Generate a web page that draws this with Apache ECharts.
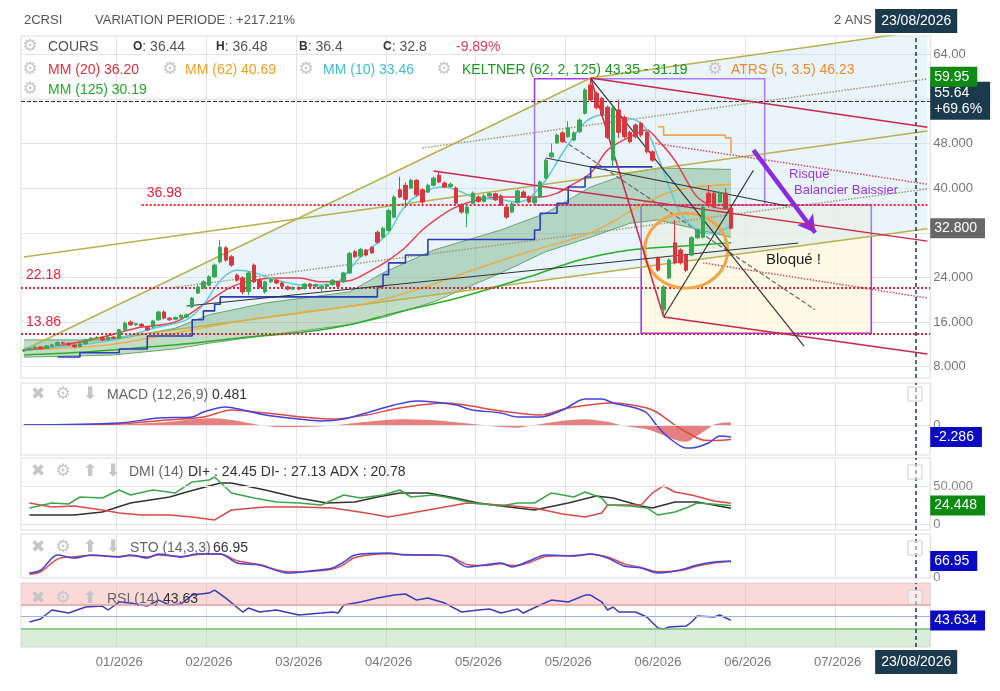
<!DOCTYPE html>
<html>
<head>
<meta charset="utf-8">
<script src="https://cdn.jsdelivr.net/npm/echarts@6/dist/echarts.min.js"></script>
<style>
html, body { margin: 0; padding: 0; background: #fff; }
#chart { width: 1000px; height: 691px; }
</style>
</head>
<body>
<div id="chart"></div>
<script>
// ---- data ----
var N = 162; // categories on the time axis
var tickIdx = [17, 33, 49, 65, 81, 97, 113, 129, 145];
var tickLabels = ['01/2026', '02/2026', '03/2026', '04/2026', '05/2026', '05/2026', '06/2026', '06/2026', '07/2026'];
var cursorIdx = 159;

// [open, close, low, high]
var candles = [
[10.8,11.0,10.6,11.2],[11.0,11.2,10.9,11.4],[11.2,11.5,11.1,11.7],[11.5,11.3,11.1,11.6],[11.3,11.7,11.2,11.9],
[11.7,11.9,11.5,12.1],[11.9,12.3,11.8,12.6],[12.3,12.2,12.0,12.5],[12.2,11.9,11.7,12.3],[11.9,11.6,11.4,12.0],
[11.6,12.1,11.5,12.3],[12.1,12.8,12.0,13.0],[12.8,13.1,12.6,13.3],[13.1,13.2,12.9,13.5],[13.2,12.8,12.6,13.4],
[12.8,13.3,12.7,13.5],[13.3,13.1,12.9,13.5],[13.1,14.6,13.0,14.8],[14.6,15.8,14.4,16.1],[16.0,15.5,15.3,16.3],
[15.5,15.7,15.3,15.9],[15.6,15.3,15.1,15.8],[15.0,14.6,14.4,15.2],[15.1,16.2,14.9,16.4],[16.4,17.8,16.2,18.0],
[17.8,16.7,16.5,18.1],[16.7,16.4,16.2,16.9],[16.5,16.8,16.3,17.0],[16.8,17.2,16.6,17.4],[16.9,17.3,16.7,17.5],
[18.7,20.3,18.5,20.5],[21.2,22.3,21.0,22.6],[22.1,23.2,21.9,23.5],[22.6,24.1,22.4,24.4],[24.1,26.2,23.9,26.5],
[26.8,29.4,26.5,30.7],[29.3,27.1,26.8,29.6],[27.7,26.2,25.9,28.0],[24.4,23.5,23.2,24.7],[23.9,21.4,21.0,24.2],
[21.5,24.8,20.8,25.1],[26.2,23.2,23.0,26.5],[23.5,22.3,22.0,23.8],[21.4,23.2,21.1,23.4],[23.2,23.6,23.0,23.9],
[23.5,23.0,22.8,23.7],[23.0,22.4,22.2,23.2],[22.3,21.9,21.7,22.5],[21.9,22.2,21.7,22.4],[22.2,21.9,21.7,22.4],
[22.0,22.8,21.8,23.0],[22.8,22.4,22.2,23.0],[22.4,22.7,22.2,22.9],[22.0,22.4,21.3,22.6],[22.4,22.7,22.2,22.9],
[22.7,23.5,22.5,23.7],[23.2,22.4,22.2,23.4],[23.2,24.8,23.0,25.0],[24.8,28.3,24.6,28.6],[28.6,27.7,27.5,28.9],
[27.8,29.0,27.6,29.3],[28.9,28.0,27.8,29.1],[29.4,28.4,28.2,29.6],[32.1,30.3,30.0,32.4],[31.2,32.8,31.0,33.1],
[32.4,36.0,32.2,36.3],[34.8,38.4,34.6,38.7],[39.7,38.4,38.2,42.0],[40.5,38.0,36.5,41.0],[40.0,41.4,39.8,41.7],
[41.4,38.8,38.5,41.6],[39.7,37.5,37.2,40.0],[39.3,40.5,39.1,40.8],[40.5,41.8,40.3,42.1],[42.3,41.1,40.9,43.0],
[40.9,40.2,40.0,41.2],[40.3,40.7,40.1,41.0],[40.0,37.3,37.0,40.3],[37.0,35.7,35.4,37.3],[35.5,36.6,33.0,36.9],
[37.3,39.1,37.1,39.4],[38.4,37.6,37.4,38.7],[37.6,38.6,37.4,38.9],[38.6,39.0,38.4,39.3],[39.0,37.9,37.7,39.2],
[38.6,37.0,36.8,38.9],[36.6,34.8,34.5,36.9],[35.7,37.2,35.5,37.5],[37.4,39.5,37.2,39.8],[39.3,38.4,38.2,39.6],
[38.4,37.5,37.3,38.7],[37.4,38.2,37.2,38.5],[38.4,41.1,38.2,41.4],[41.8,45.0,41.6,45.3],[45.6,46.3,45.4,48.0],
[48.1,49.5,47.9,49.8],[49.9,48.3,48.1,50.2],[49.2,50.8,49.0,52.0],[48.6,49.9,48.4,50.2],[50.1,52.2,49.9,52.5],
[53.4,57.6,53.2,57.9],[58.5,55.8,55.5,59.7],[57.0,54.4,54.1,57.3],[56.1,53.1,52.8,56.4],[54.5,49.1,48.8,54.8],
[45.0,54.3,43.7,54.6],[54.0,50.0,49.0,55.8],[52.7,49.2,48.9,53.0],[50.0,48.3,48.0,50.3],[51.3,49.2,48.9,51.6],
[51.6,49.5,49.2,51.9],[50.0,46.5,46.2,50.3],[46.5,45.0,44.7,46.8],[27.5,25.3,25.0,27.8],[18.2,22.3,16.9,22.6],
[23.9,27.1,23.7,27.4],[30.2,26.6,26.3,34.3],[28.9,26.6,26.3,29.2],[28.0,25.3,25.0,28.3],[28.0,31.1,27.8,31.4],
[31.1,32.5,30.9,32.8],[31.2,36.6,31.0,36.9],[39.1,37.3,36.5,40.5],[39.1,36.6,36.3,39.4],[37.5,39.1,37.3,39.4],
[39.1,36.4,36.1,40.0],[36.44,32.8,32.6,36.48]
];

// moving averages [index, value]
var mm10 = [[0,11.35],[10,11.9],[17,13.1],[24,15.1],[29,16.4],[32,19.1],[34,22.1],[36,24.4],[38,25.3],[41,24.9],[45,23.5],[50,22.6],[55,22.8],[60,27.7],[65,32.0],[67,35.5],[69,37.9],[71,39.1],[73,40.0],[75,40.2],[78,39.3],[80,38.4],[85,37.9],[88,37.5],[90,38.2],[93,41.4],[96,46.3],[100,51.8],[103,53.1],[106,52.7],[109,52.2],[111,50.4],[113,45.6],[115,40.2],[117,35.5],[120,32.5],[123,31.8],[126,33.46]];
var mm20 = [[0,11.0],[5,11.5],[14,13.3],[20,14.9],[27,16.0],[32,19.1],[37,22.3],[41,23.5],[45,23.9],[49,23.9],[53,23.2],[58,23.4],[62,25.3],[65,27.1],[68,29.4],[71,32.5],[74,34.8],[76,36.1],[78,37.0],[81,37.9],[85,38.4],[88,38.4],[92,38.4],[95,39.1],[97,40.2],[101,42.7],[104,46.8],[108,49.2],[111,50.4],[113,48.6],[116,45.0],[118,41.5],[120,38.4],[123,36.6],[126,36.2]];
var mm62 = [[0,11.0],[15,11.9],[30,14.6],[40,16.4],[50,17.8],[60,19.1],[70,21.8],[80,25.3],[90,28.6],[100,31.6],[105,34.0],[110,37.0],[115,39.3],[120,40.2],[126,40.69]];
var mm125 = [[0,10.1],[10,10.6],[20,11.35],[30,12.2],[40,13.3],[50,14.2],[58,15.5],[66,17.6],[78,20.5],[90,24.1],[99,27.1],[108,28.9],[117,29.6],[126,30.19]];
var keltUp = [[0,12.8],[16,12.8],[27,14.9],[33,17.3],[43,19.4],[58,21.4],[64,24.8],[73,28.9],[85,32.5],[93,35.5],[101,40.2],[108,42.7],[113,43.6],[126,43.35]];
var keltLow = [[0,9.7],[16,10.1],[27,11.2],[33,12.2],[43,13.6],[58,15.5],[64,16.8],[73,19.6],[85,24.8],[93,28.6],[101,31.2],[108,33.7],[113,34.3],[126,31.19]];
var atrsBull = [[6,9.73],[10,10.5],[17,11.17],[22,13.5],[30,16.4],[32,18.0],[34,19.2],[35,20.5],[63,22.3],[64,24.5],[65,26.6],[68,28.0],[72,30.8],[91,32.5],[92,35.5],[95,37.3],[97,40.2],[100,42.0],[101,43.8],[112,43.8]];
var atrsBear = [[113,51.0],[114,49.5],[125,49.0],[126,46.23]];

// hand drawn lines [[i1,v1],[i2,v2]]
var olive = [[[0,10.99],[101,59.73]], [[101,59.73],[156,67.6]], [[0,27.66],[161,50.25]], [[0,10.99],[161,32.7]]];
var oliveDot = [[[71,47.19],[161,59.57]], [[26,22.1],[161,39.85]]];
var redLines = [[[73,43.07],[161,30.5]], [[101,59.73],[161,50.9]], [[101,59.73],[114,16.9]], [[114,16.9],[161,10.25]]];
var redDot = [[[112,48.07],[161,40.7]], [[121,26.6],[161,20.3]]];
var blackLines = [[[29,18.87],[138,30.16]], [[93,45.4],[136,36.8]], [[101,59.73],[139,11.7]], [[114,16.9],[130,43.2]]];
var greyDash = [[[96,48.6],[141,18.2]]];
var fan = [[0,10.99],[101,59.73],[156,67.6],[161,67.6],[161,32.7]];
var boxTop = [[91,59.6],[132,36.98]];
var boxLow = [[110,36.98],[151,14.0]];
var levels = [36.98, 22.18, 13.86];

// indicators
var macd = [[0,0],[17,0.38],[24,1.33],[30,1.52],[32,2.48],[36,3.43],[39,2.86],[43,1.9],[49,1.14],[53,0.76],[57,1.14],[61,2.29],[66,3.81],[70,4.57],[73,4.38],[77,3.81],[80,2.86],[85,2.29],[88,1.52],[92,1.52],[96,2.86],[100,4.95],[103,4.95],[105,4.19],[109,3.24],[111,2.29],[113,-0.38],[115,-2.48],[118,-4.38],[119,-4.38],[122,-3.43],[124,-2.1],[126,-2.286]];
var macdSignal = [[0,0],[17,0.2],[24,0.8],[32,1.52],[37,2.86],[43,2.29],[55,1.14],[61,1.9],[67,3.24],[75,4.19],[85,2.67],[92,1.9],[97,3.24],[105,4.19],[111,3.24],[113,2.29],[116,0],[119,-1.9],[121,-2.86],[123,-2.95],[126,-2.77]];
var macdHist = [[0,0],[17,0.1],[26,0.6],[30,1.1],[34,1.3],[38,0.8],[42,0],[46,-0.4],[52,-0.3],[56,0],[62,0.7],[67,1.1],[73,0.9],[80,0.2],[84,-0.3],[88,-0.5],[91,0],[96,0.8],[100,1.1],[104,0.6],[107,-0.2],[111,-0.8],[113,-1.5],[116,-2.8],[118,-3.2],[120,-2.0],[122,-0.6],[123,0.1],[125,0.5],[126,0.481]];
var diPlus = [[1,21.1],[5,27.6],[8,26.3],[10,35.5],[14,34.2],[17,44.7],[19,38.2],[23,44.7],[27,40.8],[30,55.3],[33,57.9],[34,61.8],[37,40.8],[41,34.2],[45,28.9],[49,27.6],[53,25.0],[57,38.2],[60,34.2],[64,38.2],[67,44.7],[69,35.5],[73,38.2],[76,34.2],[80,27.6],[85,23.7],[88,27.6],[91,27.6],[94,40.8],[96,38.2],[98,35.5],[100,42.1],[103,34.2],[104,25.0],[108,23.7],[111,21.1],[113,11.8],[116,15.8],[118,21.1],[120,27.6],[126,24.45]];
var diMinus = [[1,27.6],[5,22.4],[9,23.7],[14,18.4],[17,14.5],[21,11.8],[26,11.8],[30,9.2],[34,5.3],[37,18.4],[43,22.4],[49,22.4],[55,21.1],[61,14.5],[65,9.2],[70,15.8],[74,21.1],[79,27.6],[85,25.0],[91,21.1],[96,13.2],[100,9.2],[103,14.5],[104,25.0],[110,25.0],[112,40.8],[114,50.0],[116,42.1],[119,38.2],[123,30.3],[126,27.13]];
var adx = [[1,11.8],[9,11.8],[14,15.8],[19,27.6],[26,35.5],[29,42.1],[35,53.9],[37,53.9],[43,44.7],[49,34.2],[54,27.6],[59,28.9],[63,35.5],[67,40.8],[72,40.8],[76,35.5],[81,27.6],[85,23.7],[91,18.4],[97,27.6],[102,36.8],[105,34.2],[110,23.7],[112,21.1],[116,28.9],[120,28.9],[126,20.78]];
var stoK = [[1,16.7],[3,29],[6,92],[9,79.5],[12,92],[17,83.7],[19,92],[22,79.5],[24,96],[28,83.7],[31,96],[35,96],[38,58.6],[42,50.2],[47,16.7],[51,25.1],[55,37.7],[57,62.8],[59,92],[65,100],[68,92],[73,92],[76,83.7],[79,41.8],[82,50.2],[85,58.6],[87,41.8],[90,66.9],[93,92],[98,87.9],[101,96],[104,79.5],[107,46],[110,37.7],[113,16.7],[117,29.3],[120,50.2],[123,62.8],[126,66.95]];
var stoD = [[1,12],[3,22],[6,75],[9,85],[12,90],[17,86],[19,89],[22,84],[24,92],[28,86],[31,94],[35,96],[38,68],[42,52],[47,22],[51,23],[55,33],[57,52],[59,82],[65,97],[68,94],[73,92],[76,86],[79,52],[82,48],[85,55],[87,48],[90,60],[93,86],[98,90],[101,95],[104,84],[107,55],[110,40],[113,22],[117,27],[120,46],[123,59],[126,65]];
var rsi = [[1,41.0],[3,45.9],[5,60.7],[8,55.7],[11,65.6],[14,67.2],[15,60.7],[17,73.8],[19,72.1],[22,67.2],[24,77.0],[26,68.9],[28,70.5],[30,85.2],[33,88.5],[34,93.4],[36,80.3],[39,57.4],[40,63.9],[42,57.4],[45,60.7],[49,52.5],[53,55.7],[55,57.4],[56,55.7],[57,68.9],[60,73.8],[63,80.3],[66,85.2],[68,86.9],[70,77.0],[72,80.3],[75,72.1],[78,57.4],[81,60.7],[83,62.3],[85,55.7],[88,62.3],[89,55.7],[92,68.9],[94,77.0],[97,73.8],[100,85.2],[101,85.2],[103,73.8],[104,60.7],[105,65.6],[106,57.4],[109,57.4],[111,49.2],[113,31.1],[114,29.5],[115,32.8],[118,34.4],[119,41.0],[120,50.8],[123,49.2],[124,52.5],[126,43.63]];

// ---- chart ----
var chart = echarts.init(document.getElementById('chart'));

var cats = [];
for (var i = 0; i < N; i++) cats.push('');
tickIdx.forEach(function (k, j) { cats[k] = tickLabels[j]; });
function onTick(idx) { return tickIdx.indexOf(idx) >= 0; }

var FONT = '"Liberation Sans", Arial, sans-serif';
var NAVY = '#1b3a4e';
var LEFT = 21, RIGHT = 1000 - (21 + N * 5.6125);
var panels = [[36, 342], [383, 72], [458, 72], [534, 44], [583, 64]];
var yRange = [[5.97, 67.26], [-5.71, 8.0], [-7.9, 86.8], [-4.2, 180], [0, 105]];
var HIDDEN = { color: 'rgba(0,0,0,0)', width: 0 };

var grids = panels.map(function (p) {
    return { left: LEFT, right: RIGHT, top: p[0], height: p[1], show: true, borderColor: '#dcdcdc', borderWidth: 1, backgroundColor: 'transparent' };
});
var xAxes = panels.map(function (p, g) {
    return {
        type: 'category', gridIndex: g, data: cats, boundaryGap: true,
        axisLine: { show: false }, axisTick: { show: false },
        axisLabel: { show: g === 4, interval: onTick, color: '#777', fontSize: 13, margin: 9, fontFamily: FONT },
        splitLine: { show: true, interval: onTick, lineStyle: { color: '#e4e4e4' } }
    };
});
var yAxes = yRange.map(function (r, g) {
    return {
        type: 'value', gridIndex: g, position: 'right', min: r[0], max: r[1],
        axisLine: { show: false }, axisTick: { show: false },
        axisLabel: { show: false }, splitLine: { show: false }
    };
});
yAxes[0].axisTick = { show: false, customValues: [8, 16, 24, 32, 40, 48, 56, 64] };
yAxes[0].axisLabel = {
    show: true, customValues: [8, 16, 24, 40, 48, 64], color: '#777', fontSize: 13, margin: 3, fontFamily: FONT,
    padding: [0, 0, 6, 0],
    formatter: function (v) { return v === 64 ? '64.00' : v.toFixed(3); }
};
yAxes[0].splitLine = { show: true, lineStyle: { color: '#e4e4e4' } };

function line(g, data, color, width, type, z, extra) {
    return Object.assign({
        type: 'line', xAxisIndex: g, yAxisIndex: g, data: data, symbol: 'none', silent: true, z: z || 3,
        lineStyle: { color: color, width: width, type: type || 'solid' }, itemStyle: { color: color }
    }, extra || {});
}
function poly(pts, fill, z, extra) {
    return Object.assign({
        type: 'custom', xAxisIndex: 0, yAxisIndex: 0, z: z, silent: true, clip: true, data: [[0, 0]],
        renderItem: function (params, api) {
            return { type: 'polygon', shape: { points: pts.map(function (p) { return api.coord(p); }) }, style: { fill: fill } };
        }
    }, extra || {});
}
function badge(v, text, bg, extra) {
    return {
        yAxis: v, lineStyle: extra && extra.lineStyle ? extra.lineStyle : HIDDEN,
        label: Object.assign({
            show: true, position: 'end', formatter: text, color: '#fff', backgroundColor: bg,
            padding: [3, 8, 3, 4], fontSize: 14, distance: 0, fontFamily: FONT
        }, extra && extra.label ? extra.label : {})
    };
}
function axisNote(v, text, lineColor) {
    return {
        yAxis: v, lineStyle: lineColor ? { color: lineColor, width: 1, type: 'solid' } : HIDDEN,
        label: { show: true, position: 'end', formatter: text, color: '#888', fontSize: 13, distance: 3, fontFamily: FONT, padding: [0, 0, 5, 0] }
    };
}
function cursor(labelPos) {
    var item = { xAxis: cursorIdx, lineStyle: { color: NAVY, type: [4, 3], width: 1.5 }, label: { show: false } };
    if (labelPos) {
        item.label = {
            show: true, position: labelPos, formatter: '23/08/2026', color: '#fff', backgroundColor: NAVY,
            padding: [5, 6], fontSize: 14, distance: 3, fontFamily: FONT
        };
    }
    return item;
}

var series = [];

// background fan + boxes fill
series.push(poly(fan, 'rgba(200,225,245,0.38)', 1, {
    markArea: {
        silent: true,
        data: [[{ coord: boxLow[0], itemStyle: { color: 'rgba(253,248,220,0.75)' } }, { coord: boxLow[1] }]]
    }
}));
// keltner band
series.push(poly(keltUp.concat(keltLow.slice().reverse()), 'rgba(70,150,85,0.33)', 2));
series.push(line(0, keltUp, '#6aa56a', 1, 'solid', 2));
series.push(line(0, keltLow, '#6aa56a', 1, 'solid', 2));

// hand drawn lines
olive.forEach(function (d) { series.push(line(0, d, '#b9b14c', 1.5, 'solid', 3)); });
oliveDot.forEach(function (d) { series.push(line(0, d, '#9d9b70', 1.5, 'dotted', 3)); });
redDot.forEach(function (d) { series.push(line(0, d, '#d34a62', 1.5, 'dotted', 3)); });
greyDash.forEach(function (d) { series.push(line(0, d, '#666', 1.2, 'dashed', 3)); });

// averages
series.push(line(0, mm125, '#27b027', 1.5, 'solid', 4, { smooth: 0.3 }));
series.push(line(0, mm62, '#f2a93b', 1.3, 'solid', 4, { smooth: 0.3 }));
series.push(line(0, mm20, '#e8424f', 1.5, 'solid', 4, { smooth: 0.3 }));
series.push(line(0, mm10, '#5ccbe0', 1.5, 'solid', 4, { smooth: 0.3 }));
series.push(line(0, atrsBull, '#2c3cb8', 1.6, 'solid', 4, { step: 'end' }));
series.push(line(0, atrsBear, '#f5a445', 1.6, 'solid', 4, { step: 'end' }));

redLines.forEach(function (d) { series.push(line(0, d, '#c9284a', 1.5, 'solid', 5)); });
blackLines.forEach(function (d) { series.push(line(0, d, '#333', 1.2, 'solid', 5)); });

// candles + annotations
var mainMarks = [
    { yAxis: levels[1], lineStyle: { color: '#e8213a', type: 'dotted', width: 2 },
      label: { show: true, position: 'insideStartTop', formatter: '22.18', color: '#e8213a', fontSize: 14, fontFamily: FONT } },
    { yAxis: levels[2], lineStyle: { color: '#e8213a', type: 'dotted', width: 2 },
      label: { show: true, position: 'insideStartTop', formatter: '13.86', color: '#e8213a', fontSize: 14, fontFamily: FONT } },
    [{ coord: [21, levels[0]], lineStyle: { color: '#e8213a', type: 'dotted', width: 2 },
       label: { show: true, position: 'insideStartTop', formatter: '36.98', color: '#e8213a', fontSize: 14, fontFamily: FONT } },
     { coord: [161, levels[0]] }],
    badge(55.64, '55.64\n+69.6%', NAVY, { lineStyle: { color: '#333', type: 'dashed', width: 1 }, label: { lineHeight: 16 } }),
    badge(59.95, '59.95', '#0c8a12'),
    badge(32.8, '32.800', '#676767'),
    cursor('end'),
    [{ coord: [130, 46.8], symbol: 'none', lineStyle: { color: '#8a2be2', width: 4.5, type: 'solid' }, label: { show: false } },
     { coord: [141, 32.0], symbol: 'arrow', symbolSize: [15, 17] }]
];
series.push({
    type: 'candlestick', name: 'COURS', xAxisIndex: 0, yAxisIndex: 0, data: candles, barWidth: 4, z: 6, silent: true,
    itemStyle: { color: '#35a853', color0: '#d9363e', borderColor: '#35a853', borderColor0: '#d9363e', borderWidth: 1 },
    markLine: { silent: true, symbol: ['none', 'none'], data: mainMarks },
    markArea: {
        silent: true,
        itemStyle: { color: 'rgba(0,0,0,0)', borderColor: '#9d3cf0', borderWidth: 1.6 },
        data: [[{ coord: boxTop[0] }, { coord: boxTop[1] }], [{ coord: boxLow[0] }, { coord: boxLow[1] }]]
    },
    markPoint: {
        silent: true,
        data: [{ coord: [117.5, 28.8], symbol: 'path://M50,0A50,50,0,1,1,50,100A50,50,0,1,1,50,0Z', symbolSize: [83, 75],
                 itemStyle: { color: 'rgba(0,0,0,0)', borderColor: '#f5a445', borderWidth: 3 }, label: { show: false } }]
    }
});

// MACD
series.push(line(1, macdHist, '#e06060', 0, 'solid', 2, { smooth: 0.3, areaStyle: { color: '#e27272', opacity: 0.9 } }));
series.push(line(1, macdSignal, '#e04848', 1.5, 'solid', 3, { smooth: 0.3 }));
series.push(line(1, macd, '#4242e0', 1.5, 'solid', 4, {
    smooth: 0.3,
    markLine: { silent: true, symbol: ['none', 'none'], data: [axisNote(0, '0', '#e4e4e4'), badge(-2.286, '-2.286', '#0a0ac4'), cursor()] }
}));

// DMI
series.push(line(2, adx, '#333', 1.5, 'solid', 3));
series.push(line(2, diMinus, '#e04848', 1.5, 'solid', 3));
series.push(line(2, diPlus, '#3aa84a', 1.5, 'solid', 3, {
    markLine: { silent: true, symbol: ['none', 'none'], data: [axisNote(50, '50.000', '#e4e4e4'), axisNote(0, '0', '#e4e4e4'), badge(24.448, '24.448', '#0c8a12'), cursor()] }
}));

// STO
series.push(line(3, stoD, '#e04848', 1.5, 'solid', 3, { smooth: 0.3 }));
series.push(line(3, stoK, '#4242e0', 1.5, 'solid', 4, {
    smooth: 0.3,
    markLine: { silent: true, symbol: ['none', 'none'], data: [axisNote(0, '0'), badge(66.95, '66.95', '#0a0ac4'), cursor()] }
}));

// RSI
series.push(line(4, rsi, '#3a3ac0', 1.5, 'solid', 4, {
    markArea: {
        silent: true,
        data: [[{ yAxis: 70, itemStyle: { color: 'rgba(245,170,170,0.45)' } }, { yAxis: 105 }],
               [{ yAxis: 0, itemStyle: { color: 'rgba(170,215,170,0.45)' } }, { yAxis: 30 }]]
    },
    markLine: {
        silent: true, symbol: ['none', 'none'],
        data: [
            { yAxis: 70, lineStyle: { color: '#e59a9a', width: 1.5, type: 'solid' }, label: { show: false } },
            { yAxis: 50, lineStyle: { color: '#9db4ea', width: 1.2, type: 'solid' }, label: { show: false } },
            { yAxis: 30, lineStyle: { color: '#78bd78', width: 1.5, type: 'solid' }, label: { show: false } },
            badge(43.634, '43.634', '#0a0ac4'),
            cursor('start')
        ]
    }
}));

// ---- texts and small decorations ----
var G = [];
function T(x, y, s, fill, size, extra) {
    G.push({ type: 'text', x: x, y: y, z: 100, silent: true,
        style: Object.assign({ text: s, fill: fill, font: (size || 14) + 'px ' + FONT, align: 'left', verticalAlign: 'middle' }, extra || {}) });
}
function icon(x, y, ch) {
    G.push({ type: 'text', x: x, y: y, z: 100, silent: true,
        style: { text: ch, fill: '#c6c6c6', font: 'bold 17px "DejaVu Sans"', align: 'center', verticalAlign: 'middle' } });
}
function ohlc(x, y, k, v) {
    T(x, y, '{b|' + k + '}: ' + v, '#555', 14, { rich: { b: { fontWeight: 'bold', fill: '#333', font: 'bold 14px ' + FONT } } });
}
T(24, 20, '2CRSI', '#555', 13);
T(95, 20, 'VARIATION PERIODE : +217.21%', '#555', 13);
T(834, 20, '2 ANS', '#555', 13);

icon(30, 47, '\u2699'); T(48, 47, 'COURS', '#555');
ohlc(133, 47, 'O', '36.44'); ohlc(216, 47, 'H', '36.48'); ohlc(299, 47, 'B', '36.4'); ohlc(383, 47, 'C', '32.8');
T(456, 47, '-9.89%', '#e53958');
icon(30, 70, '\u2699'); T(48, 70, 'MM (20) 36.20', '#e5303a');
icon(170, 70, '\u2699'); T(185, 70, 'MM (62) 40.69', '#f3a01f');
icon(306, 70, '\u2699'); T(323, 70, 'MM (10) 33.46', '#3dbfd4');
icon(444, 70, '\u2699'); T(462, 70, 'KELTNER (62, 2, 125) 43.35 - 31.19', '#169a1e');
icon(715, 70, '\u2699'); T(731, 70, 'ATRS (5, 3.5) 46.23', '#f08a24');
icon(30, 90, '\u2699'); T(48, 90, 'MM (125) 30.19', '#1faa2a');

icon(38, 395, '\u2716'); icon(63, 395, '\u2699'); icon(90, 395, '\u2B07');
T(107, 395, 'MACD (12,26,9)', '#666'); T(212, 395, '0.481', '#333');
icon(38, 472, '\u2716'); icon(63, 472, '\u2699'); icon(90, 472, '\u2B06'); icon(113, 472, '\u2B07');
T(129, 472, 'DMI (14)', '#666'); T(188, 472, 'DI+ : 24.45 DI- : 27.13 ADX : 20.78', '#333');
icon(38, 548, '\u2716'); icon(63, 548, '\u2699'); icon(90, 548, '\u2B06'); icon(113, 548, '\u2B07');
T(130, 548, 'STO (14,3,3)', '#666'); T(213, 548, '66.95', '#333');
icon(38, 599, '\u2716'); icon(63, 599, '\u2699'); icon(90, 599, '\u2B06');
T(107, 599, 'RSI (14)', '#666'); T(163, 599, '43.63', '#333');

[387, 465, 541, 590].forEach(function (y) {
    G.push({ type: 'rect', x: 908, y: y, z: 90, silent: true, shape: { width: 14, height: 14 },
        style: { fill: 'rgba(255,255,255,0.5)', stroke: '#cfcfcf', lineWidth: 1 } });
});

T(789, 174, 'Risque', '#9b35ee', 13);
T(794, 190, 'Balancier Baissier', '#9b35ee', 13);
T(766, 260, 'Bloqué !', '#222', 15);

chart.setOption({
    animation: false,
    backgroundColor: '#fff',
    textStyle: { fontFamily: FONT },
    grid: grids,
    xAxis: xAxes,
    yAxis: yAxes,
    series: series,
    graphic: G
});
</script>
</body>
</html>
